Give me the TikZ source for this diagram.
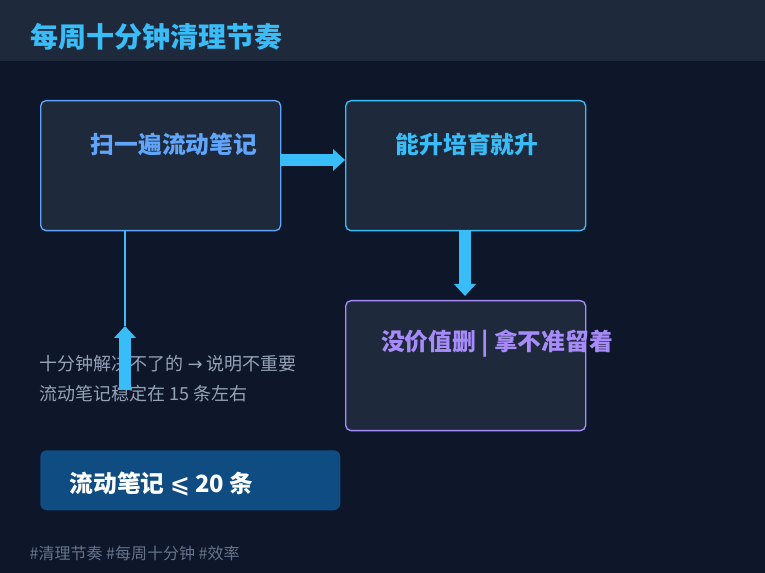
\documentclass[tikz,border=0pt]{standalone}
\usepackage{fontspec}
\setmainfont{Noto Sans CJK SC}
\newfontfamily\dvs{DejaVu Sans}
\usetikzlibrary{arrows.meta}
\definecolor{bg}{HTML}{0E1629}
\definecolor{band}{HTML}{1E293B}
\definecolor{boxf}{HTML}{1E293B}
\definecolor{cA}{HTML}{60A5FA}
\definecolor{cB}{HTML}{38BDF8}
\definecolor{cC}{HTML}{A78BFA}
\definecolor{sub}{HTML}{94A3B8}
\definecolor{tag}{HTML}{64748B}
\definecolor{note}{HTML}{0F4C81}
\begin{document}
\begin{tikzpicture}[x=0.75pt,y=-0.75pt,
  box/.style={draw,fill=boxf,rounded corners=4pt,line width=1pt,minimum width=180pt,minimum height=97.5pt,anchor=north west},
  lbl/.style={font=\fontsize{17.8}{20}\selectfont\bfseries},
  big/.style={draw=cB,line width=9pt,-{Triangle[width=16pt,length=9pt]}}]
\useasboundingbox (0,0) rectangle (765,573);
\fill[bg] (0,0) rectangle (765,573);
\fill[band] (0,0) rectangle (765,61);
\node[anchor=west,text=cB,font=\fontsize{21}{24}\selectfont\bfseries] (title) at (26,37) {每周十分钟清理节奏};
\node[box,draw=cA] (b1) at (40,100) {};
\node[box,draw=cB] (b2) at (345,100) {};
\node[box,draw=cC] (b3) at (345,300) {};
\node[lbl,text=cA] (t1) at (174,144) {扫一遍流动笔记};
\node[lbl,text=cB] (t2) at (467,144) {能升培育就升};
\node[lbl,text=cC] (t3) at (497,344) {没价值删 | 拿不准留着};
\coordinate (a1s) at (280,160); \coordinate (a1e) at (345,160);
\coordinate (a2s) at (465,230); \coordinate (a2e) at (465,296);
\coordinate (ls) at (125,230); \coordinate (le) at (125,326);
\coordinate (us) at (125,390);
\draw[cB,line width=1.2pt] (ls) -- (le);
\node[anchor=west,text=sub,font=\fontsize{13.5}{16}\selectfont] (sub1) at (35,364) {十分钟解决不了的 {\dvs →} 说明不重要};
\node[anchor=west,text=sub,font=\fontsize{13.5}{16}\selectfont] (sub2) at (35,394) {流动笔记稳定在 15 条左右};
\draw[big] (a1s) -- (a1e);
\draw[big] (a2s) -- (a2e);
\draw[big] (us) -- (le);
\node[fill=note,rounded corners=5pt,anchor=north west,minimum width=225pt,minimum height=45pt] (nb) at (40,450) {};
\node[anchor=west,text=white,font=\fontsize{17.8}{20}\selectfont\bfseries] (nt) at (65,484) {流动笔记 {\dvs\bfseries ⩽} 20 条};
\node[anchor=west,text=tag,font=\fontsize{12}{14}\selectfont] (tags) at (25,553) {\#清理节奏 \#每周十分钟 \#效率};
\end{tikzpicture}
\end{document}
